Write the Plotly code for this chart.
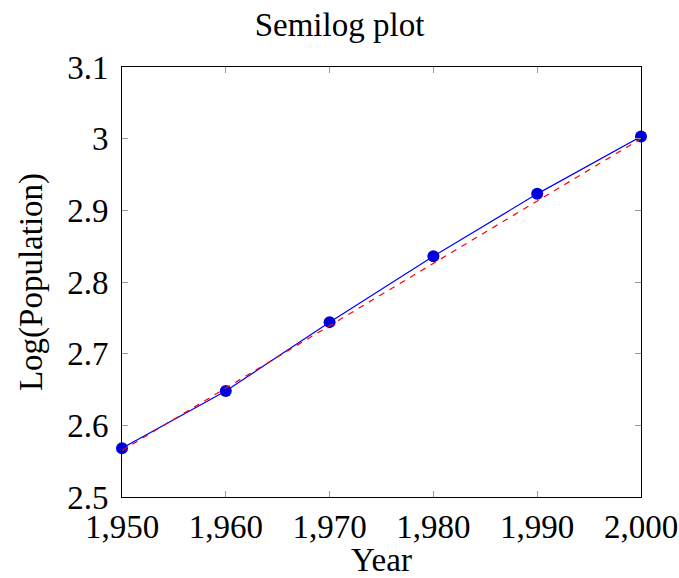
import plotly.graph_objects as go

years = [1950, 1960, 1970, 1980, 1990, 2000]
log_population = [2.568, 2.648, 2.744, 2.836, 2.923, 3.003]
fit_years = [1950, 2000]
fit_values = [2.565, 3.0]
x_ticks = [1950, 1960, 1970, 1980, 1990, 2000]
y_ticks = [2.5, 2.6, 2.7, 2.8, 2.9, 3.0, 3.1]
y_tick_labels = ["2.5", "2.6", "2.7", "2.8", "2.9", "3", "3.1"]

font = "Liberation Serif"
fsize = 33

fig = go.Figure()
fig.add_trace(go.Scatter(
    x=years, y=log_population, mode="lines+markers",
    line=dict(color="#0000ff", width=1.2),
    marker=dict(color="#0000dd", size=12, line=dict(width=0)),
    cliponaxis=False, showlegend=False))
fig.add_trace(go.Scatter(
    x=fit_years, y=fit_values, mode="lines",
    line=dict(color="#ff0000", width=1.2, dash="6px,6px"),
    showlegend=False))

axis_common = dict(
    showgrid=False, zeroline=False, showline=True, linecolor="black", linewidth=1,
    mirror="allticks", ticks="inside", ticklen=6, tickcolor="#999999",
    automargin=False,
    tickfont=dict(family=font, size=fsize, color="black"),
)
fig.update_layout(
    width=679, height=578,
    margin=dict(l=122, r=38, t=67, b=81),
    paper_bgcolor="white", plot_bgcolor="white",
    title=dict(text="Semilog plot", x=0.5, xanchor="center", y=0.957, yanchor="middle",
               font=dict(family=font, size=fsize, color="black")),
    xaxis=dict(range=[1950, 2000], tickvals=x_ticks, tickformat=",d", ticklabelstandoff=0,
               title=dict(text="Year", font=dict(family=font, size=fsize, color="black"), standoff=0),
               **axis_common),
    yaxis=dict(range=[2.5, 3.1], tickvals=y_ticks, ticktext=y_tick_labels, ticklabelstandoff=6,
               title=dict(text="Log(Population)", font=dict(family=font, size=fsize, color="black"), standoff=14),
               **axis_common),
)
fig.write_html("out.html", config={"displayModeBar": False},
               post_script="document.body.style.margin='0';")
